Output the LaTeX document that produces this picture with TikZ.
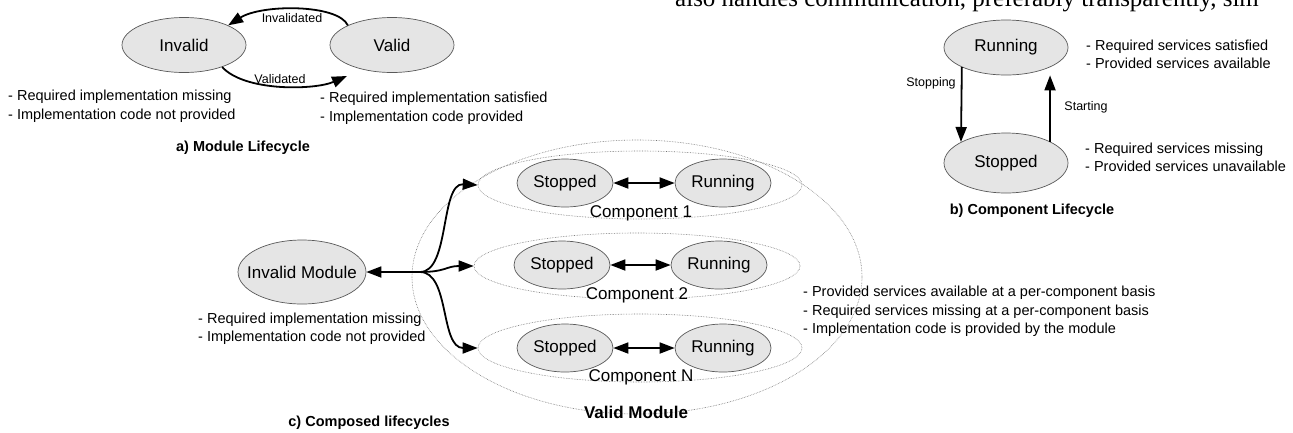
\documentclass[tikz,border=0pt]{standalone}
\usepackage{fontspec}
\setmainfont{Liberation Sans}
\newfontfamily\serifface{Liberation Serif}
\usetikzlibrary{shapes.geometric,arrows.meta}
\begin{document}
\begin{tikzpicture}[x=1pt,y=-1pt,
  st/.style={ellipse, draw=black!65, line width=0.7pt, fill=black!10, inner sep=0pt, font=\fontsize{17}{17}\selectfont},
  bigst/.style={st, minimum width=124pt, minimum height=55pt},
  smst/.style={st, minimum width=96pt, minimum height=48pt},
  grp/.style={ellipse, draw=black!55, densely dotted, line width=0.6pt, inner sep=0pt},
  arr/.style={line width=1.8pt, -{Triangle[length=15pt,width=11pt]}},
  darr/.style={line width=1.8pt, {Triangle[length=15pt,width=11pt]}-{Triangle[length=15pt,width=11pt]}},
  note/.style={anchor=west, align=left, inner sep=0pt, font=\fontsize{14.5}{18.5}\selectfont},
  lab/.style={inner sep=0pt, font=\fontsize{12.5}{12.5}\selectfont},
  capt/.style={inner sep=0pt, font=\bfseries\fontsize{14.5}{14.5}\selectfont},
  glab/.style={inner sep=0pt, font=\fontsize{17}{17}\selectfont}
]
\useasboundingbox (0,0) rectangle (1293,432);

% cut-off line of running text
\node[anchor=base west, inner sep=0pt, font=\serifface\fontsize{25}{25}\selectfont] (toptext) at (675,6) {also handles communication, preferably transparently, sim};

% ---------- a) Module lifecycle ----------
\node[bigst] (I) at (184,45) {\makebox[0pt]{Invalid}};
\node[bigst] (V) at (392,45) {\makebox[0pt]{Valid}};
\coordinate (vin) at (347,76);
\draw[arr] (V.156) .. controls (338,4) and (262,4) .. (I.24);
\draw[arr] (I.-30) .. controls (245,92) and (315,90) .. (vin);
\node[lab] (linv) at (292,18) {Invalidated};
\node[lab] (lval) at (280,79) {Validated};
\node[note] (nI) at (8,106) {- Required implementation missing\\- Implementation code not provided};
\node[note] (nV) at (320,108) {- Required implementation satisfied\\- Implementation code provided};
\node[capt] (capa) at (243,148) {a) Module Lifecycle};

% ---------- b) Component lifecycle ----------
\node[st, minimum width=124pt, minimum height=55pt] (R) at (1006,47.5) {\makebox[0pt]{Running}};
\node[st, minimum width=124pt, minimum height=60pt] (S) at (1006,163) {\makebox[0pt]{Stopped}};
\draw[arr] (R.204) -- (S.155);
\draw[arr] (S.26) -- (S.26 |- R.south);
\node[lab] (lstop) at (931,83) {Stopping};
\node[lab] (lstart) at (1086,107) {Starting};
\node[note] (nR) at (1086,54.5) {- Required services satisfied\\- Provided services available};
\node[note] (nS) at (1085,157.5) {- Required services missing\\- Provided services unavailable};
\node[capt] (capb) at (1032,211) {b) Component Lifecycle};

% ---------- c) Composed lifecycles ----------
\node[grp, minimum width=450pt, minimum height=274pt] (VM) at (637,277) {};
\node[grp, minimum width=324pt, minimum height=68pt] (C1) at (640,185) {};
\node[grp, minimum width=326pt, minimum height=66pt] (C2) at (637,266) {};
\node[grp, minimum width=324pt, minimum height=68pt] (C3) at (640,348) {};

\node[smst] (S1) at (565,183) {\makebox[0pt]{Stopped}};
\node[smst] (R1) at (723,183) {\makebox[0pt]{Running}};
\node[smst] (S2) at (562,265) {\makebox[0pt]{Stopped}};
\node[smst] (R2) at (719,265) {\makebox[0pt]{Running}};
\node[smst] (S3) at (565,348) {\makebox[0pt]{Stopped}};
\node[smst] (R3) at (723,348) {\makebox[0pt]{Running}};
\draw[darr] (S1.east) -- (R1.west);
\draw[darr] (S2.east) -- (R2.west);
\draw[darr] (S3.east) -- (R3.west);

\node[glab] (lc1) at (641,213) {Component 1};
\node[glab] (lc2) at (637,295) {Component 2};
\node[glab] (lc3) at (641,377) {Component N};
\node[glab, font=\bfseries\fontsize{17}{17}\selectfont] (lvm) at (636,412) {Valid Module};

\node[st, minimum width=128pt, minimum height=64pt] (IM) at (302,272) {\makebox[0pt]{Invalid Module}};
\coordinate (J) at (420,272);
\draw[arr] (J) -- (IM.east);
\draw[arr] (J) .. controls (450,272) and (440,183) .. (C1.west);
\draw[arr] (J) .. controls (446,272) and (446,266) .. (C2.west);
\draw[arr] (J) .. controls (450,272) and (440,348) .. (C3.west);

\node[note] (nIM) at (198,328.5) {- Required implementation missing\\- Implementation code not provided};
\node[note] (nVM) at (803,311.5) {- Provided services available at a per-component basis\\- Required services missing at a per-component basis\\- Implementation code is provided by the module};
\node[capt] (capc) at (369,423) {c) Composed lifecycles};
\end{tikzpicture}
\end{document}
